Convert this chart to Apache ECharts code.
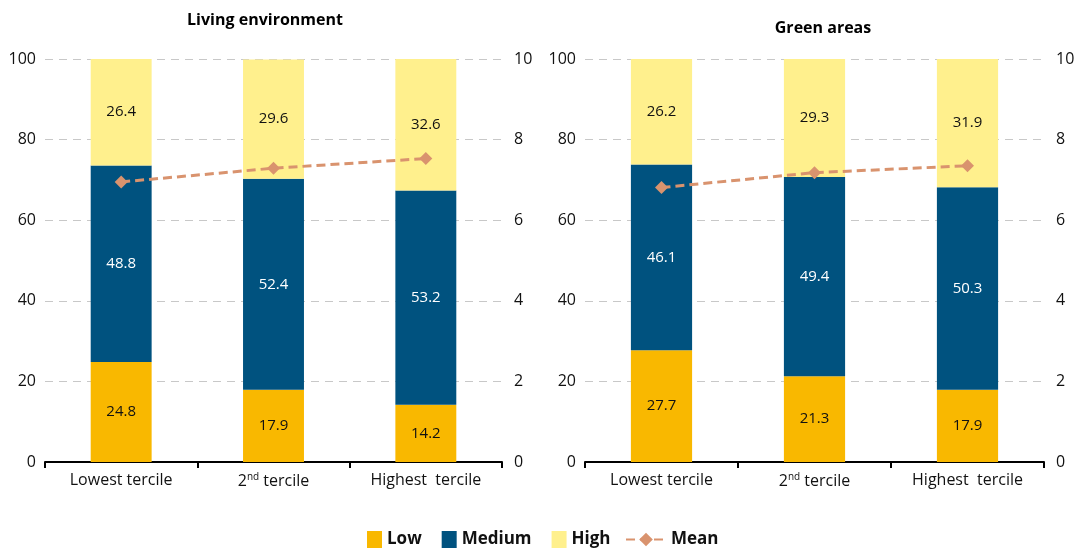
<!DOCTYPE html>
<html><head><meta charset="utf-8">
<script src="https://cdn.jsdelivr.net/npm/echarts@6/dist/echarts.min.js"></script>
<style>html,body{margin:0;padding:0;background:#fff}#c{width:1087px;height:548px}</style>
</head><body><div id="c"></div>
<script>
const categories = ['Lowest tercile', '2nd tercile', 'Highest  tercile'];
const panelTitles = ['Living environment', 'Green areas'];
const leftTicks = [0, 20, 40, 60, 80, 100];
const rightTicks = [0, 2, 4, 6, 8, 10];
const lowLiving = [24.8, 17.9, 14.2];
const mediumLiving = [48.8, 52.4, 53.2];
const highLiving = [26.4, 29.6, 32.6];
const meanLiving = [6.95, 7.29, 7.53];
const lowGreen = [27.7, 21.3, 17.9];
const mediumGreen = [46.1, 49.4, 50.3];
const highGreen = [26.2, 29.3, 31.9];
const meanGreen = [6.81, 7.18, 7.35];

const FONT = '"Open Sans", "Noto Sans", sans-serif';
const C_LOW = '#F9B800', C_MED = '#00527F', C_HIGH = '#FFF08D', C_MEAN = '#D9936E';

const grids = [
  {left: 45, top: 59, width: 457, height: 403},
  {left: 585, top: 59, width: 459, height: 403}
];

function xAxis(i) {
  return {
    type: 'category', gridIndex: i, data: categories,
    axisLine: {lineStyle: {color: '#000', width: 2}},
    axisTick: {show: true, interval: 0, length: 6, lineStyle: {color: '#000', width: 2}, alignWithLabel: false},
    axisLabel: {
      interval: 0,
      color: '#111', fontSize: 16, fontFamily: FONT, margin: 10,
      formatter: v => v.replace(/^2nd/, '2{sup|nd}'),
      rich: {sup: {fontSize: 10, verticalAlign: 'top', padding: [0, 0, 8, 0], color: '#111', fontFamily: FONT}}
    }
  };
}
function yLeft(i) {
  return {
    type: 'value', gridIndex: i, min: leftTicks[0], max: leftTicks[leftTicks.length - 1], interval: 20,
    axisLine: {show: false}, axisTick: {show: false},
    axisLabel: {color: '#111', fontSize: 16, fontFamily: FONT, margin: 9},
    splitLine: {show: true, lineStyle: {color: '#C8C8C8', type: [8, 6], width: 1}}
  };
}
function yRight(i) {
  return {
    type: 'value', gridIndex: i, position: 'right', min: rightTicks[0], max: rightTicks[rightTicks.length - 1], interval: 2,
    axisLine: {show: false}, axisTick: {show: false},
    axisLabel: {color: '#111', fontSize: 16, fontFamily: FONT, margin: 12},
    splitLine: {show: false}
  };
}
function barSeries(name, data, color, idx, labelColor) {
  return {
    name, type: 'bar', stack: 's' + idx, xAxisIndex: idx, yAxisIndex: idx * 2,
    data, barWidth: '40%', itemStyle: {color},
    label: {show: true, position: 'inside', color: labelColor, fontSize: 15, fontFamily: FONT, formatter: p => p.value.toFixed(1)},
    emphasis: {disabled: true}
  };
}
function meanSeries(data, idx) {
  return {
    name: 'Mean', type: 'line', xAxisIndex: idx, yAxisIndex: idx * 2 + 1, data,
    symbol: 'diamond', symbolSize: 13, itemStyle: {color: C_MEAN},
    lineStyle: {color: C_MEAN, width: 3, type: [9, 5]}, z: 10,
    emphasis: {disabled: true}
  };
}

const chart = echarts.init(document.getElementById('c'), null, {renderer: 'canvas'});
chart.setOption({
  animation: false,
  title: [
    {text: panelTitles[0], left: 260, top: 7, textAlign: 'center', textStyle: {fontSize: 16, fontWeight: 'bold', color: '#000', fontFamily: FONT}},
    {text: panelTitles[1], left: 818, top: 15, textAlign: 'center', textStyle: {fontSize: 16, fontWeight: 'bold', color: '#000', fontFamily: FONT}}
  ],
  legend: [
    {data: ['Low', 'Medium', 'High'], left: 362, top: 526, itemWidth: 15, itemHeight: 17, itemGap: 20, icon: 'rect',
      textStyle: {fontSize: 17, fontWeight: 'bold', color: '#111', fontFamily: FONT}, selectedMode: false},
    {data: ['Mean'], left: 620, top: 526, itemWidth: 40, itemHeight: 17, selectedMode: false,
      textStyle: {fontSize: 17, fontWeight: 'bold', color: '#111', fontFamily: FONT}}
  ],
  grid: grids,
  xAxis: [xAxis(0), xAxis(1)],
  yAxis: [yLeft(0), yRight(0), yLeft(1), yRight(1)],
  series: [
    barSeries('Low', lowLiving, C_LOW, 0, '#111'),
    barSeries('Medium', mediumLiving, C_MED, 0, '#fff'),
    barSeries('High', highLiving, C_HIGH, 0, '#111'),
    meanSeries(meanLiving, 0),
    barSeries('Low', lowGreen, C_LOW, 1, '#111'),
    barSeries('Medium', mediumGreen, C_MED, 1, '#fff'),
    barSeries('High', highGreen, C_HIGH, 1, '#111'),
    meanSeries(meanGreen, 1)
  ]
});
</script></body></html>
